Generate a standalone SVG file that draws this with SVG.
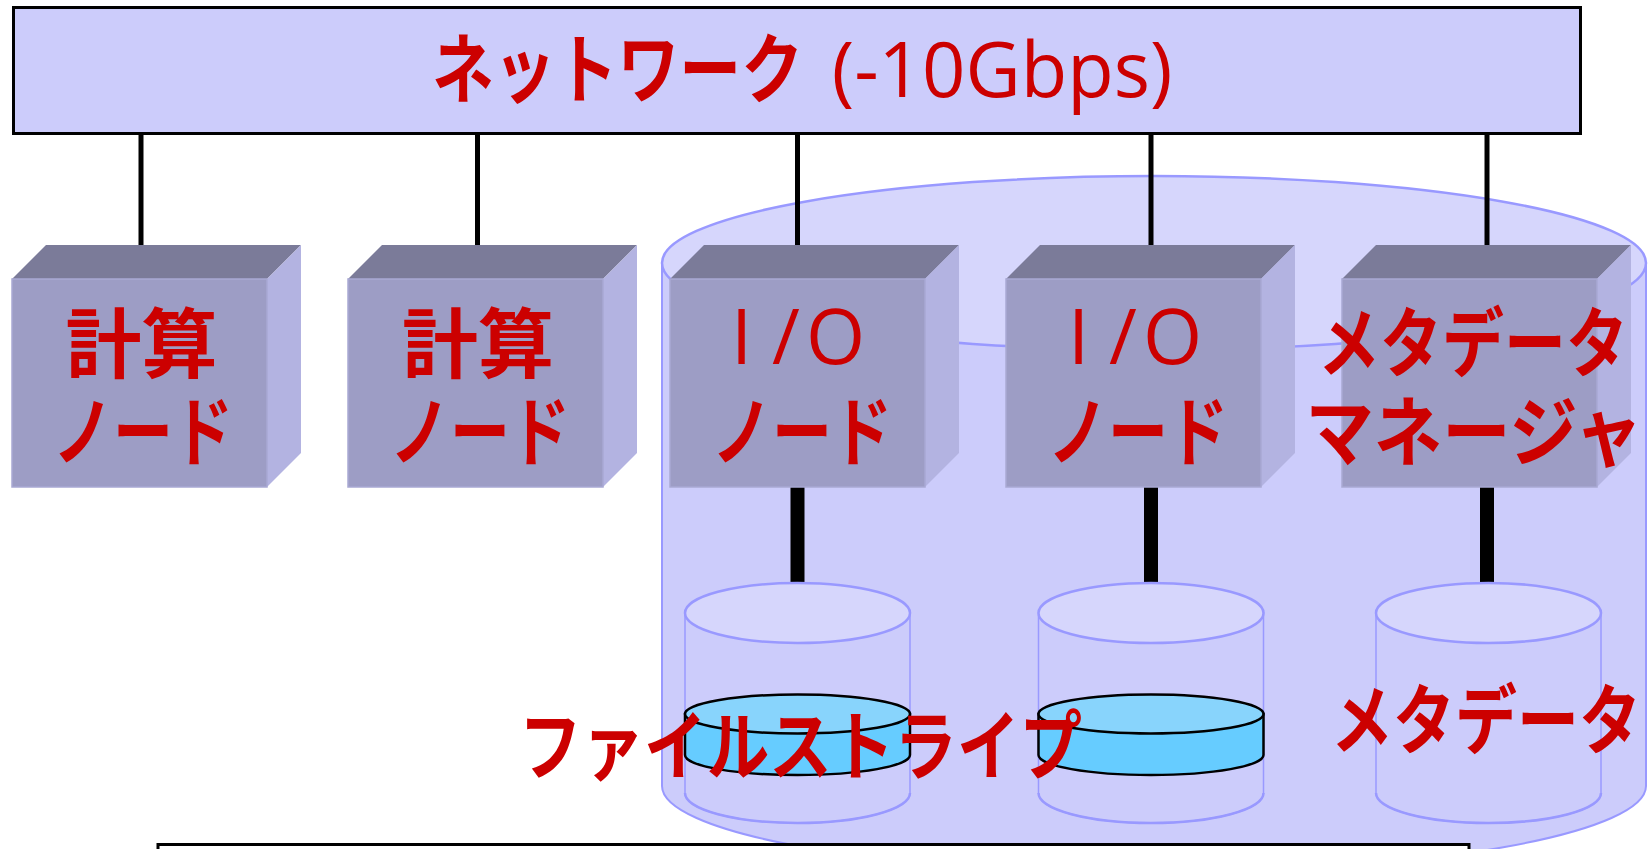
<svg xmlns="http://www.w3.org/2000/svg" xmlns:xlink="http://www.w3.org/1999/xlink" width="1651" height="849" viewBox="0 0 1651 849">
  <defs>
    <style>
      .net{fill:#ccccfb;stroke:#000;stroke-width:3}
      .lbl{font-family:"Open Sans","Noto Sans CJK JP",sans-serif;font-size:76px;fill:#cc0000}
      .jp{font-weight:bold}
      .mid{text-anchor:middle}
      .top{fill:#7b7b99}
      .front{fill:#9d9dc5;stroke:#a9a9d3;stroke-width:1.5}
      .side{fill:#b3b3e1}
      .link{stroke:#000;stroke-width:5}
      .bus{stroke:#000;stroke-width:14}
      .pool-body{fill:#ccccfb;stroke:#9999ff;stroke-width:2}
      .pool-top{fill:#d6d6fc;stroke:#9999ff;stroke-width:2.5}
      .vol-body{fill:#ccccfb;stroke:#9999ff;stroke-width:1.5}
      .vol-base{fill:none;stroke:#9999ff;stroke-width:2.5}
      .vol-top{fill:#d6d6fc;stroke:#9999ff;stroke-width:2.5}
      .disk-body{fill:#66ccff;stroke:#000;stroke-width:2.5}
      .disk-top{fill:#88d4fc;stroke:#000;stroke-width:2.5}
      .box{fill:#fff;stroke:#000;stroke-width:3}
    </style>
    <!-- server box: front face origin at its top-left corner -->
    <g id="cube">
      <polygon class="top" points="0,0 34,-34 289,-34 255,0"/>
      <polygon class="side" points="255,0 289,-34 289,174 255,208"/>
      <rect class="front" x="0" y="0" width="255" height="208"/>
    </g>
    <!-- storage volume: origin at centre of the top ellipse -->
    <g id="volume">
      <path class="vol-body" d="M -112.5 0 L -112.5 180 A 112.5 30 0 0 0 112.5 180 L 112.5 0 Z"/>
      <path class="vol-base" d="M -112.5 180 A 112.5 30 0 0 0 112.5 180"/>
      <ellipse class="vol-top" cx="0" cy="0" rx="112.5" ry="30"/>
    </g>
    <!-- stripe disk: origin at centre of its top ellipse -->
    <g id="disk">
      <path class="disk-body" d="M -112.5 0 L -112.5 41 A 112.5 20 0 0 0 112.5 41 L 112.5 0 Z"/>
      <ellipse class="disk-top" cx="0" cy="0" rx="112.5" ry="19.5"/>
    </g>
  </defs>

  <rect width="1651" height="849" fill="#fff"/>

  <!-- network bus -->
  <g id="network">
    <rect class="net" x="13.5" y="7.5" width="1567" height="126"/>
    <text class="lbl" y="97"><tspan class="jp" x="432" textLength="371" lengthAdjust="spacingAndGlyphs">ネットワーク</tspan><tspan x="812"> (-10Gbps)</tspan></text>
  </g>

  <!-- parallel file system enclosure -->
  <g id="filesystem">
    <path class="pool-body" d="M 662 263 L 662 786 A 492 87 0 0 0 1646 786 L 1646 263 Z"/>
    <ellipse class="pool-top" cx="1154" cy="263" rx="492" ry="87"/>
  </g>

  <!-- connectors -->
  <g id="connectors">
    <line class="link" x1="141" y1="134" x2="141" y2="246"/>
    <line class="link" x1="477.5" y1="134" x2="477.5" y2="246"/>
    <line class="link" x1="797.5" y1="134" x2="797.5" y2="246"/>
    <line class="link" x1="1151" y1="134" x2="1151" y2="246"/>
    <line class="link" x1="1487" y1="134" x2="1487" y2="246"/>
    <line class="bus" x1="797.5" y1="487" x2="797.5" y2="584"/>
    <line class="bus" x1="1151" y1="487" x2="1151" y2="584"/>
    <line class="bus" x1="1487" y1="487" x2="1487" y2="584"/>
  </g>

  <!-- compute nodes -->
  <g id="compute-node-1">
    <use xlink:href="#cube" x="12" y="279"/>
    <text class="lbl jp mid" x="141.5" y="372">計算</text>
    <text class="lbl jp mid" x="143" y="460" textLength="180" lengthAdjust="spacingAndGlyphs">ノード</text>
  </g>
  <g id="compute-node-2">
    <use xlink:href="#cube" x="348" y="279"/>
    <text class="lbl jp mid" x="478" y="372">計算</text>
    <text class="lbl jp mid" x="480" y="460" textLength="180" lengthAdjust="spacingAndGlyphs">ノード</text>
  </g>

  <!-- I/O nodes -->
  <g id="io-node-1">
    <use xlink:href="#cube" x="670" y="279"/>
    <text class="lbl" x="731 772 806" y="364">I/O</text>
    <text class="lbl jp mid" x="802" y="460" textLength="180" lengthAdjust="spacingAndGlyphs">ノード</text>
  </g>
  <g id="io-node-2">
    <use xlink:href="#cube" x="1006" y="279"/>
    <text class="lbl" x="1068 1109 1143" y="364">I/O</text>
    <text class="lbl jp mid" x="1138" y="460" textLength="180" lengthAdjust="spacingAndGlyphs">ノード</text>
  </g>

  <!-- metadata manager -->
  <g id="metadata-manager">
    <use xlink:href="#cube" x="1342" y="279"/>
    <text class="lbl jp mid" x="1473" y="371" textLength="310" lengthAdjust="spacingAndGlyphs">メタデータ</text>
    <text class="lbl jp mid" x="1474" y="460" textLength="337" lengthAdjust="spacingAndGlyphs">マネージャ</text>
  </g>

  <!-- storage volumes -->
  <g id="volume-1">
    <use xlink:href="#volume" x="797.5" y="613"/>
    <use xlink:href="#disk" x="797.5" y="714"/>
  </g>
  <g id="volume-2">
    <use xlink:href="#volume" x="1151" y="613"/>
    <use xlink:href="#disk" x="1151" y="714"/>
  </g>
  <g id="volume-meta">
    <use xlink:href="#volume" x="1488.5" y="613"/>
    <text class="lbl jp mid" x="1486" y="748" textLength="310" lengthAdjust="spacingAndGlyphs">メタデータ</text>
  </g>

  <g id="stripe-label">
    <text class="lbl jp" x="519" y="774" textLength="563" lengthAdjust="spacingAndGlyphs">ファイルストライプ</text>
  </g>

  <!-- caption frame along the bottom edge -->
  <g id="caption-frame">
    <rect class="box" x="158" y="844.5" width="1311" height="30"/>
  </g>
</svg>
